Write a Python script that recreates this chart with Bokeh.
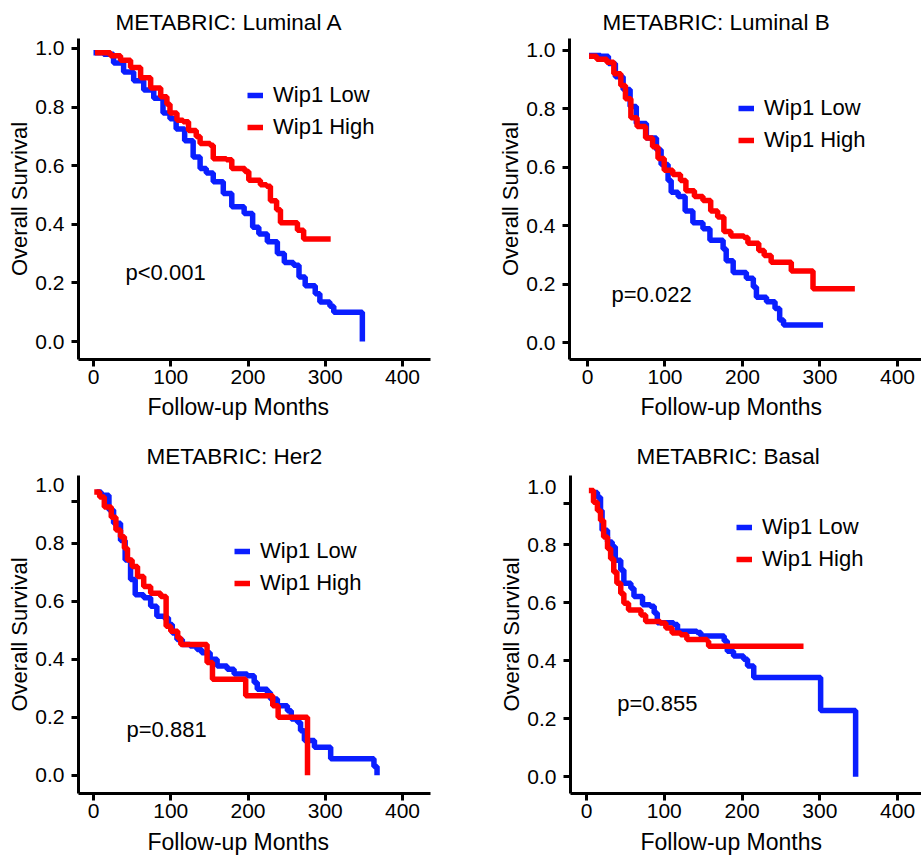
from bokeh.plotting import figure
from bokeh.layouts import column, row
from bokeh.models import Legend, LegendItem, Label, FixedTicker, PrintfTickFormatter, Title
from bokeh.embed import file_html
from bokeh.resources import INLINE

FONT = "Liberation Sans"
BLUE = "#0a1eff"
RED = "#ff0000"

# ---------------- data ----------------
titles = ["METABRIC: Luminal A", "METABRIC: Luminal B", "METABRIC: Her2", "METABRIC: Basal"]
pvalues = ["p<0.001", "p=0.022", "p=0.881", "p=0.855"]
legend_labels = ["Wip1 Low", "Wip1 High"]
x_label = "Follow-up Months"
y_label = "Overall Survival"
x_ticks = [0, 100, 200, 300, 400]
y_ticks = [0.0, 0.2, 0.4, 0.6, 0.8, 1.0]
# tick marks drawn on the y axis (bottom panels show the top mark slightly below 1.0)
y_marks_top = [0.0, 0.2, 0.4, 0.6, 0.8, 1.0]
y_marks_bottom = [0.0, 0.2, 0.4, 0.6, 0.8, 0.943]

lumA_low_t = [0, 13, 26, 39, 52, 65, 78, 90, 99, 107, 118, 129, 138, 146, 155, 168, 179, 195, 206, 214,
              225, 238, 247, 259, 266, 274, 287, 293, 306, 311, 348]
lumA_low_s = [0.985, 0.98, 0.95, 0.92, 0.89, 0.858, 0.83, 0.78, 0.76, 0.725, 0.685, 0.63, 0.59, 0.575, 0.545,
              0.505, 0.46, 0.437, 0.39, 0.367, 0.34, 0.30, 0.27, 0.26, 0.22, 0.19, 0.163, 0.135, 0.12, 0.10, 0.0]
lumA_high_t = [2, 22, 35, 48, 61, 74, 87, 95, 99, 108, 116, 123, 133, 138, 151, 155, 172, 179, 196, 201,
               216, 224, 229, 237, 242, 259, 264, 272, 307]
lumA_high_s = [0.985, 0.975, 0.96, 0.935, 0.90, 0.865, 0.835, 0.81, 0.78, 0.755, 0.75, 0.72, 0.70, 0.676, 0.67,
               0.624, 0.62, 0.59, 0.58, 0.55, 0.535, 0.53, 0.48, 0.45, 0.405, 0.405, 0.38, 0.35, 0.35]

lumB_low_t = [2, 17, 27, 36, 46, 55, 63, 76, 89, 95, 104, 108, 117, 126, 136, 149, 158, 175, 179, 188,
              205, 214, 218, 231, 242, 248, 253, 304]
lumB_low_s = [0.983, 0.98, 0.955, 0.91, 0.866, 0.808, 0.75, 0.70, 0.66, 0.61, 0.555, 0.515, 0.50, 0.45, 0.41,
              0.39, 0.35, 0.32, 0.28, 0.24, 0.22, 0.19, 0.155, 0.14, 0.117, 0.077, 0.06, 0.06]
lumB_high_t = [2, 12, 25, 34, 43, 49, 56, 64, 75, 84, 91, 99, 110, 120, 127, 138, 149, 159, 168, 176,
               185, 202, 207, 221, 228, 237, 263, 291, 345]
lumB_high_s = [0.98, 0.97, 0.96, 0.92, 0.88, 0.835, 0.77, 0.74, 0.70, 0.67, 0.63, 0.59, 0.575, 0.555, 0.52,
               0.50, 0.486, 0.45, 0.43, 0.38, 0.365, 0.36, 0.34, 0.315, 0.298, 0.275, 0.245, 0.184, 0.184]

her2_low_t = [4, 10, 20, 26, 35, 41, 48, 54, 65, 74, 82, 91, 97, 102, 108, 115, 125, 134, 140, 151,
              160, 173, 182, 199, 208, 212, 225, 229, 238, 251, 256, 264, 268, 273, 286, 307, 363, 367]
her2_low_s = [0.977, 0.966, 0.915, 0.869, 0.81, 0.743, 0.675, 0.623, 0.612, 0.583, 0.549, 0.543, 0.52, 0.491,
              0.468, 0.451, 0.446, 0.434, 0.423, 0.40, 0.377, 0.366, 0.349, 0.343, 0.32, 0.297, 0.286, 0.263,
              0.24, 0.223, 0.194, 0.183, 0.154, 0.12, 0.097, 0.057, 0.03, 0.0]
her2_high_t = [1, 8, 14, 23, 29, 35, 40, 44, 50, 57, 65, 74, 87, 94, 100, 109, 113, 147, 154, 197,
               232, 239, 277]
her2_high_s = [0.977, 0.96, 0.925, 0.89, 0.846, 0.823, 0.783, 0.743, 0.72, 0.686, 0.651, 0.628, 0.617, 0.514,
               0.497, 0.474, 0.451, 0.389, 0.331, 0.274, 0.24, 0.20, 0.0]

basal_low_t = [7, 14, 18, 20, 27, 33, 37, 44, 48, 57, 61, 72, 82, 87, 91, 112, 117, 142, 147, 177,
               181, 189, 202, 207, 215, 301, 346]
basal_low_s = [0.98, 0.964, 0.918, 0.85, 0.81, 0.793, 0.747, 0.713, 0.667, 0.65, 0.622, 0.593, 0.588, 0.565,
               0.531, 0.525, 0.502, 0.497, 0.485, 0.468, 0.433, 0.416, 0.405, 0.382, 0.342, 0.228, 0.0]
basal_high_t = [3, 9, 14, 18, 22, 27, 31, 35, 39, 44, 48, 54, 70, 76, 95, 102, 110, 121, 129, 155,
                157, 279]
basal_high_s = [0.987, 0.947, 0.918, 0.884, 0.827, 0.787, 0.752, 0.706, 0.667, 0.632, 0.598, 0.575, 0.558,
                0.535, 0.53, 0.513, 0.496, 0.49, 0.473, 0.467, 0.45, 0.45]

curves = [
    (lumA_low_t, lumA_low_s, lumA_high_t, lumA_high_s),
    (lumB_low_t, lumB_low_s, lumB_high_t, lumB_high_s),
    (her2_low_t, her2_low_s, her2_high_t, her2_high_s),
    (basal_low_t, basal_low_s, basal_high_t, basal_high_s),
]

# ---------------- layout (per panel) ----------------
panels = [
    dict(w=460, h=430, bl=78, br=30, bt=38, bb=71, xr=(-19.4, 436.2), yr=(-0.0614, 1.034),
         leg=(169, 219), t_off=37, t_so=8, x_off=69, x_so=10, pv=(41.4, 0.235), marks=y_marks_top),
    dict(w=461, h=430, bl=109, br=0, bt=38, bb=71, xr=(-23.2, 431.0), yr=(-0.058, 1.041),
         leg=(169, 206), t_off=33, t_so=8, x_off=71, x_so=10, pv=(31.0, 0.165), marks=y_marks_top),
    dict(w=460, h=430, bl=78, br=30, bt=45, bb=65, xr=(-19.4, 436.2), yr=(-0.0627, 1.034),
         leg=(156, 197), t_off=68, t_so=14, x_off=69, x_so=12, pv=(42.7, 0.159), marks=y_marks_bottom),
    dict(w=461, h=430, bl=110, br=0, bt=45, bb=65, xr=(-20.6, 430.7), yr=(-0.058, 1.039),
         leg=(166, 221), t_off=66, t_so=14, x_off=70, x_so=12, pv=(39.5, 0.254), marks=y_marks_bottom),
]

figs = []
for i, cfg in enumerate(panels):
    p = figure(width=cfg["w"], height=cfg["h"], x_range=cfg["xr"], y_range=cfg["yr"],
               output_backend="svg", toolbar_location=None,
               min_border_left=cfg["bl"], min_border_right=cfg["br"],
               min_border_top=cfg["bt"], min_border_bottom=cfg["bb"])
    p.outline_line_color = None
    p.grid.visible = False
    p.background_fill_color = "white"
    p.border_fill_color = "white"

    p.title.text = titles[i]
    p.title.align = "left"
    p.title.offset = cfg["t_off"]
    p.title.standoff = cfg["t_so"]
    p.title.text_font = FONT
    p.title.text_font_size = "22.5px"
    p.title.text_font_style = "normal"
    p.title.text_color = "black"

    for ax in (p.xaxis[0], p.yaxis[0]):
        ax.axis_line_width = 3
        ax.axis_line_color = "black"
        ax.major_tick_line_width = 3
        ax.major_tick_line_color = "black"
        ax.major_tick_in = 0
        ax.major_label_text_font = FONT
        ax.major_label_text_font_size = "21px"
        ax.major_label_text_color = "black"
    # x axis: ordinary major ticks
    p.xaxis[0].ticker = FixedTicker(ticks=x_ticks)
    p.xaxis[0].major_tick_out = 7
    p.xaxis[0].minor_tick_line_color = None
    p.xaxis[0].major_label_standoff = 3
    # y axis: labels on major ticks, visible marks drawn as "minor" ticks
    yax = p.yaxis[0]
    yax.ticker = FixedTicker(ticks=y_ticks, minor_ticks=cfg["marks"])
    yax.formatter = PrintfTickFormatter(format="%.1f")
    yax.major_tick_out = 0
    yax.major_tick_line_color = None
    yax.minor_tick_in = 0
    yax.minor_tick_out = 7
    yax.minor_tick_line_width = 3
    yax.minor_tick_line_color = "black"
    yax.major_label_standoff = 7
    yax.axis_label = y_label
    yax.axis_label_text_font = FONT
    yax.axis_label_text_font_size = "22px"
    yax.axis_label_text_font_style = "normal"
    yax.axis_label_text_color = "black"
    yax.axis_label_standoff = 0

    xt = Title(text=x_label, align="left", offset=cfg["x_off"], standoff=cfg["x_so"],
               text_font=FONT, text_font_size="23px", text_font_style="normal", text_color="black")
    p.add_layout(xt, "below")

    lt, ls, ht, hs = curves[i]
    r_low = p.step(lt, ls, mode="after", line_color=BLUE, line_width=5.5)
    r_high = p.step(ht, hs, mode="after", line_color=RED, line_width=5.5)

    legend = Legend(items=[LegendItem(label=legend_labels[0], renderers=[r_low]),
                           LegendItem(label=legend_labels[1], renderers=[r_high])],
                    location=cfg["leg"], padding=0, margin=0, spacing=6,
                    glyph_width=16, glyph_height=26, label_height=26, label_standoff=10,
                    label_text_font=FONT, label_text_font_size="22px", label_text_color="black",
                    border_line_color=None, background_fill_alpha=0)
    p.add_layout(legend)

    px_, py_ = cfg["pv"]
    p.add_layout(Label(x=px_, y=py_, text=pvalues[i], text_font=FONT, text_font_size="22px",
                       text_color="black", text_align="left", text_baseline="middle"))
    figs.append(p)

layout = column(row(figs[0], figs[1]), row(figs[2], figs[3]))
open("out.html", "w").write(file_html(layout, INLINE))
